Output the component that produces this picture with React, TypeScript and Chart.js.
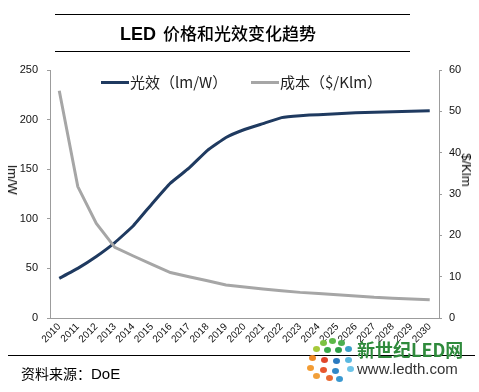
import React, { useEffect, useRef } from 'react';
import { Chart, registerables } from 'chart.js';

Chart.register(...registerables);

const years = ['2010', '2011', '2012', '2013', '2014', '2015', '2016', '2017', '2018', '2019', '2020', '2021', '2022', '2023', '2024', '2025', '2026', '2027', '2028', '2029', '2030'];
const efficacy = [40, 50, 62, 76, 93, 115, 136, 151, 169, 182, 190, 196, 202, 204, 205, 206, 207, 207.5, 208, 208.5, 209];
const cost = [55, 31.8, 22.9, 17.1, 15, 13, 11, 10, 9, 8, 7.5, 7, 6.6, 6.2, 5.9, 5.6, 5.3, 5.0, 4.8, 4.6, 4.4];
const seriesNames = ['光效（lm/W）', '成本（$/Klm）'];
const leftAxis = { min: 0, max: 250, step: 50, title: 'lm/W' };
const rightAxis = { min: 0, max: 60, step: 10, title: '$/Klm' };
const titleMain = 'LED';
const titleRest = '价格和光效变化趋势';
const sourceText = '资料来源：';
const sourceName = 'DoE';

const BLUE = '#1f3a60';
const GRAY = '#a6a6a6';
const AXIS = '#9c9c9c';
const SANS = '"Liberation Sans", Arial, sans-serif';
const CJK = '"Noto Sans CJK SC", "Liberation Sans", sans-serif';

const dots: [number, number, string][] = [
  [323, 343, '#7cc242'], [332, 341, '#5cb848'], [341, 343, '#4caf50'],
  [316, 349, '#a6c93a'], [327, 350, '#3aa84a'], [338, 350, '#2e9e48'], [348, 349, '#3aa0c8'],
  [312, 358, '#f08a24'], [310, 368, '#f39c32'], [316, 376, '#f2a03a'],
  [324, 360, '#e0452a'], [323, 370, '#e8562e'], [329, 378, '#e86a32'],
  [336, 361, '#2a7ac0'], [335, 371, '#3088c8'], [339, 379, '#3a98d0'],
  [348, 360, '#5ab8e0'], [350, 369, '#6cc4e8'],
];

export default function App() {
  const ref = useRef<HTMLCanvasElement | null>(null);

  useEffect(() => {
    if (!ref.current) return;
    Chart.defaults.font.family = SANS;
    const chart = new Chart(ref.current, {
      type: 'line',
      data: {
        labels: years,
        datasets: [
          {
            label: seriesNames[0],
            data: efficacy,
            borderColor: BLUE,
            backgroundColor: BLUE,
            borderWidth: 3,
            pointRadius: 0,
            tension: 0.1,
            yAxisID: 'y',
            order: 2,
          },
          {
            label: seriesNames[1],
            data: cost,
            borderColor: GRAY,
            backgroundColor: GRAY,
            borderWidth: 3,
            pointRadius: 0,
            tension: 0,
            yAxisID: 'y1',
            order: 1,
          },
        ],
      },
      options: {
        responsive: false,
        animation: false,
        layout: { padding: { top: 70, bottom: 34, left: 0, right: 0 } },
        plugins: { legend: { display: false }, tooltip: { enabled: false }, title: { display: false } },
        scales: {
          x: {
            offset: true,
            grid: { display: false, drawTicks: false },
            border: { display: true, color: AXIS, width: 1 },
            ticks: {
              autoSkip: false,
              maxRotation: 45,
              minRotation: 45,
              padding: 3,
              color: '#111',
              font: { family: SANS, size: 10 },
            },
            afterFit: (s: any) => { s.height = 40; },
          },
          y: {
            position: 'left',
            min: leftAxis.min,
            max: leftAxis.max,
            ticks: { stepSize: leftAxis.step, padding: 9, color: '#111', font: { family: SANS, size: 11 } },
            grid: { display: true, drawOnChartArea: false, drawTicks: true, tickLength: 3, color: AXIS },
            border: { display: true, color: AXIS, width: 1 },
            afterFit: (s: any) => { s.width = 50; },
          },
          y1: {
            position: 'right',
            min: rightAxis.min,
            max: rightAxis.max,
            ticks: { stepSize: rightAxis.step, padding: 7, color: '#111', font: { family: SANS, size: 11 } },
            grid: { display: true, drawOnChartArea: false, drawTicks: true, tickLength: 3, color: AXIS },
            border: { display: true, color: AXIS, width: 1 },
            afterFit: (s: any) => { s.width = 40; },
          },
        },
      },
    });
    return () => chart.destroy();
  }, []);

  const abs = (style: React.CSSProperties): React.CSSProperties => ({ position: 'absolute', whiteSpace: 'nowrap', ...style });

  return (
    <div style={{ position: 'fixed', left: 0, top: 0, width: 479, height: 392, background: '#fff', overflow: 'hidden' }}>
      <canvas ref={ref} width={479} height={392} style={{ position: 'absolute', left: 0, top: 0 }} />
      <div style={abs({ left: 55, top: 14, width: 355, height: 0, borderTop: '1px solid #000' })} />
      <div style={abs({ left: 55, top: 51, width: 355, height: 0, borderTop: '1px solid #000' })} />
      <div style={abs({ left: 120, top: 21, height: 24, lineHeight: '24px', color: '#000' })}>
        <span style={{ fontFamily: SANS, fontWeight: 'bold', fontSize: 18 }}>{titleMain}</span>
        <span style={{ fontFamily: CJK, fontSize: 17, marginLeft: 7, fontWeight: 500 }}>{titleRest}</span>
      </div>
      <div style={abs({ left: 101, top: 81, width: 28, height: 3, background: BLUE })} />
      <div style={abs({ left: 130, top: 72, lineHeight: '20px', fontFamily: CJK, fontSize: 15, color: '#222' })}>{seriesNames[0]}</div>
      <div style={abs({ left: 251, top: 81, width: 28, height: 3, background: GRAY })} />
      <div style={abs({ left: 280, top: 72, lineHeight: '20px', fontFamily: CJK, fontSize: 15, color: '#222' })}>{seriesNames[1]}</div>
      <div style={abs({ left: 12, top: 180, fontFamily: SANS, fontSize: 13, color: '#000', lineHeight: '14px', transform: 'translate(-50%, -50%) rotate(90deg)' })}>{leftAxis.title}</div>
      <div style={abs({ left: 466, top: 170, fontFamily: SANS, fontSize: 13, color: '#000', lineHeight: '14px', transform: 'translate(-50%, -50%) rotate(90deg)' })}>{rightAxis.title}</div>
      <div style={abs({ left: 8, top: 355, width: 467, height: 0, borderTop: '1px solid #000' })} />
      <div style={abs({ left: 21, top: 364, lineHeight: '18px', color: '#000' })}>
        <span style={{ fontFamily: CJK, fontSize: 14 }}>{sourceText}</span>
        <span style={{ fontFamily: SANS, fontSize: 15 }}>{sourceName}</span>
      </div>
      {dots.map(([x, y, c], i) => (
        <div key={i} style={abs({ left: x - 3.5, top: y - 3, width: 7, height: 6, borderRadius: '50%', background: c })} />
      ))}
      <div style={abs({ left: 357, top: 339, lineHeight: '20px', fontFamily: CJK, fontSize: 18, fontWeight: 'bold', color: '#2f8a3c' })}>新世纪LED网</div>
      <div style={abs({ left: 357, top: 360, lineHeight: '18px', fontFamily: SANS, fontSize: 15, color: '#333' })}>www.ledth.com</div>
    </div>
  );
}
